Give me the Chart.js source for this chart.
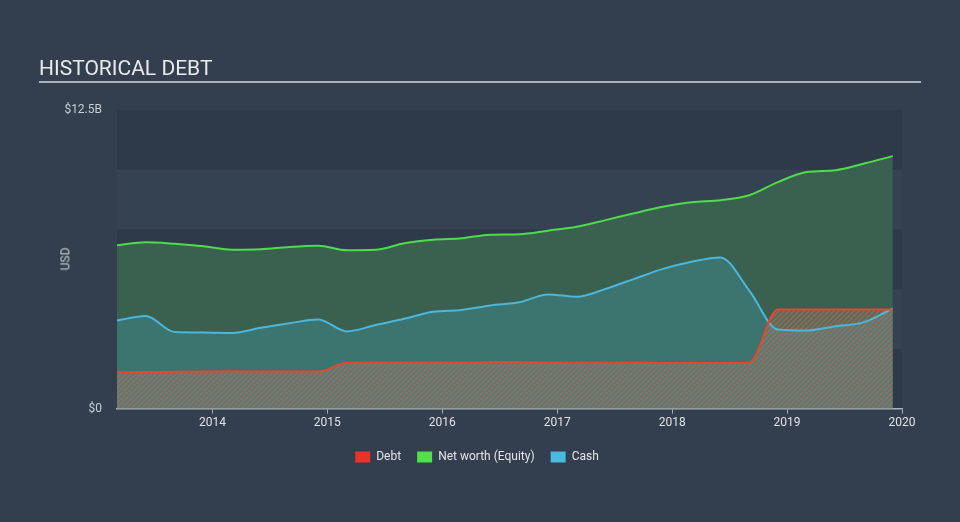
<!DOCTYPE html>
<html>
<head>
<meta charset="utf-8">
<script src="https://cdn.jsdelivr.net/npm/chart.js@4.4.0/dist/chart.umd.min.js"></script>
<style>
  body { margin: 0; background: #333f4f; font-family: Roboto, sans-serif; }
  #wrap { position: relative; width: 960px; height: 522px; }
  #title { position: absolute; left: 39px; top: 56px; color: #e8eaec; font-size: 21px; }
  #rule { position: absolute; left: 39px; top: 81px; width: 882px; height: 2px; background: #aab1ba; }
  #usd { position: absolute; left: 54px; top: 252px; color: #c9ced4; font-size: 12px; transform: rotate(-90deg); transform-origin: center; }
</style>
</head>
<body>
<div id="wrap">
  <canvas id="myChart" width="960" height="522"></canvas>
  <div id="title">HISTORICAL DEBT</div>
  <div id="rule"></div>
  <div id="usd">USD</div>
</div>
<script>
// quarterly reporting points (decimal year), values in $B
const periods = [2013.17, 2013.42, 2013.67, 2013.92, 2014.17, 2014.42, 2014.67, 2014.92,
  2015.17, 2015.42, 2015.67, 2015.92, 2016.17, 2016.42, 2016.67, 2016.92,
  2017.17, 2017.42, 2017.67, 2017.92, 2018.17, 2018.42, 2018.67, 2018.92,
  2019.17, 2019.42, 2019.67, 2019.92];
const debt = [1.52, 1.53, 1.54, 1.55, 1.56, 1.55, 1.55, 1.55,
  1.92, 1.93, 1.93, 1.93, 1.93, 1.94, 1.94, 1.93,
  1.92, 1.92, 1.92, 1.91, 1.91, 1.91, 1.92, 4.15,
  4.15, 4.15, 4.15, 4.15];
const netWorth = [6.84, 6.96, 6.90, 6.80, 6.65, 6.67, 6.77, 6.82,
  6.63, 6.65, 6.92, 7.07, 7.13, 7.28, 7.30, 7.45,
  7.61, 7.89, 8.18, 8.45, 8.64, 8.72, 8.93, 9.48,
  9.90, 9.98, 10.26, 10.57];
const cash = [3.69, 3.88, 3.21, 3.19, 3.17, 3.38, 3.57, 3.73,
  3.23, 3.50, 3.76, 4.05, 4.13, 4.32, 4.45, 4.78,
  4.68, 5.01, 5.43, 5.85, 6.15, 6.33, 4.95, 3.31,
  3.27, 3.45, 3.62, 4.19];
const yearTicks = [2014, 2015, 2016, 2017, 2018, 2019, 2020];
const legendColors = ['#e8322b', '#4fe04a', '#4ab9de'];

const pts = arr => arr.map((v, i) => ({ x: periods[i], y: v }));

// hatched fill for the debt area
const pc = document.createElement('canvas');
pc.width = 5; pc.height = 5;
const p = pc.getContext('2d');
p.fillStyle = 'rgba(150,150,140,0.25)';
p.fillRect(0, 0, 5, 5);
p.strokeStyle = 'rgba(225,95,70,0.55)';
p.lineWidth = 1.4;
p.beginPath();
p.moveTo(0, 5); p.lineTo(5, 0);
p.moveTo(-1, 1); p.lineTo(1, -1);
p.moveTo(4, 6); p.lineTo(6, 4);
p.stroke();
const hatch = document.getElementById('myChart').getContext('2d').createPattern(pc, 'repeat');

// alternating horizontal bands behind the plot
const bands = {
  id: 'bands',
  beforeDraw(chart) {
    const { ctx, chartArea: a, scales: { y } } = chart;
    for (let i = 0; i < 5; i++) {
      const top = y.getPixelForValue((i + 1) * 2.5);
      const bot = y.getPixelForValue(i * 2.5);
      ctx.fillStyle = i % 2 === 0 ? '#2e3a49' : '#354252';
      ctx.fillRect(a.left, top, a.right - a.left, bot - top);
    }
  }
};

const ctx = document.getElementById('myChart').getContext('2d');
const myChart = new Chart(ctx, {
  type: 'line',
  data: {
    datasets: [{
      label: 'Debt',
      data: pts(debt),
      borderColor: '#e2472f',
      backgroundColor: hatch,
      fill: 'origin',
      order: 0
    }, {
      label: 'Net worth (Equity)',
      data: pts(netWorth),
      borderColor: '#4fdc4a',
      backgroundColor: '#3a614f',
      fill: 'origin',
      order: 2
    }, {
      label: 'Cash',
      data: pts(cash),
      borderColor: '#4bb7dc',
      backgroundColor: '#3c7470',
      fill: 'origin',
      order: 1
    }]
  },
  plugins: [bands],
  options: {
    responsive: false,
    animation: false,
    layout: { padding: { top: 110, right: 6, bottom: 49, left: 0 } },
    elements: {
      line: { borderWidth: 2, cubicInterpolationMode: 'monotone' },
      point: { radius: 0 }
    },
    scales: {
      x: {
        type: 'linear',
        min: 2013.17,
        max: 2020,
        afterBuildTicks: s => { s.ticks = yearTicks.map(v => ({ value: v })); },
        afterFit: s => { s.height += 3; },
        grid: { drawOnChartArea: false, drawTicks: true, tickLength: 5, color: '#aab1ba' },
        border: { display: true, color: '#aab1ba', width: 1.5 },
        ticks: { color: '#dfe2e6', font: { family: 'Roboto', size: 12 }, padding: 2, callback: v => String(v) }
      },
      y: {
        min: 0,
        max: 12.5,
        afterFit: s => { s.width = 117; },
        afterBuildTicks: s => { s.ticks = [0, 12.5].map(v => ({ value: v })); },
        grid: { display: false, drawTicks: false },
        border: { display: false },
        ticks: { color: '#c9ced4', font: { family: 'Roboto', size: 12 }, padding: 15,
          callback: v => v === 0 ? '$0' : '$' + v + 'B' }
      },
      // empty right-hand gutter so the legend centres on the page
      yRight: {
        type: 'linear',
        position: 'right',
        afterFit: s => { s.width = 52; },
        grid: { display: false, drawTicks: false },
        border: { display: false },
        ticks: { display: false }
      }
    },
    plugins: {
      filler: { drawTime: 'beforeDatasetsDraw' },
      legend: {
        position: 'bottom',
        labels: {
          color: '#e2e5e8',
          font: { family: 'Roboto', size: 12 },
          boxWidth: 15,
          boxHeight: 11,
          padding: 16,
          generateLabels: chart => chart.data.datasets.map((d, i) => ({
            text: d.label,
            fillStyle: legendColors[i],
            strokeStyle: legendColors[i],
            lineWidth: 0,
            fontColor: '#e2e5e8',
            datasetIndex: i
          }))
        }
      },
      tooltip: { enabled: false }
    }
  }
});
</script>
</body>
</html>
